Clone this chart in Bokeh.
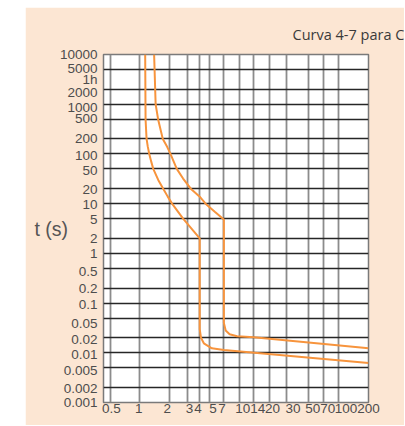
import math
from bokeh.plotting import figure
from bokeh.models import (Range1d, FixedTicker, Spacer, CustomJSTickFormatter,
                          AllLabels)
from bokeh.layouts import row, column
from bokeh.embed import file_html
from bokeh.resources import INLINE

# ---------------- data ----------------
title_text = "Curva 4-7 para C"
y_axis_title = "t (s)"

# current as multiple of In (x) and tripping time in seconds (y)
x_ticks = [0.5, 1, 2, 3, 4, 5, 7, 10, 14, 20, 30, 50, 70, 100, 200]
x_tick_labels = ["0.5", "1", "2", "3", "4", "5", "7", "10", "14", "20",
                 "30", "50", "70", "100", "200"]

y_grid_vals = [10000, 5000, 2000, 1000, 500, 200, 100, 50, 20, 10, 5, 2, 1,
               0.5, 0.2, 0.1, 0.05, 0.02, 0.01, 0.005, 0.002, 0.001]
y_label_vals = [10000, 5000, 3600, 2000, 1000, 500, 200, 100, 50, 20, 10, 5, 2,
                1, 0.5, 0.2, 0.1, 0.05, 0.02, 0.01, 0.005, 0.002, 0.001]
y_tick_labels = ["10000", "5000", "1h", "2000", "1000", "500", "200", "100",
                 "50", "20", "10", "5", "2", "1", "0.5", "0.2", "0.1", "0.05",
                 "0.02", "0.01", "0.005", "0.002", "0.001"]

# curve with magnetic trip at 4 x In
curve4_I = [1.13, 1.14, 1.167, 1.2, 1.242, 1.3, 1.363, 1.529, 1.716, 1.9,
            2.107, 2.72, 4.0, 4.0, 4.12, 4.4, 5.3, 7.0, 200]
curve4_t = [10000, 500, 200, 140, 100, 70, 50, 30, 20, 14,
            10, 5, 2, 0.03, 0.02, 0.0155, 0.0123, 0.0114, 0.0062]

# curve with magnetic trip at 7 x In
curve7_I = [1.39, 1.44, 1.53, 1.7, 1.88, 2.03, 2.35, 2.72, 3.25, 4.0,
            4.58, 5.67, 7.0, 7.0, 7.3, 8.0, 9.5, 14, 200]
curve7_t = [10000, 1000, 480, 200, 139, 100, 50, 32, 20, 13.8,
            10, 6.9, 4.8, 0.04, 0.028, 0.0235, 0.0215, 0.0205, 0.0123]

# ---------------- style ----------------
cream = "#FCE6D3"
orange = "#F7943D"
label_color = "#4D4D4D"
FRAME_W, FRAME_H = 265, 348
# small pixel nudges of tick labels (right / down), as in the printed chart
x_label_nudge = [1.3, -1.1, -2.6, 2.2, -1.7, 3.7, -1.9, 3.6, 3.9, 3.3, 6.3,
                 4.0, 4.6, 7.3, 0]
y_label_nudge = [0, -0.7, 3.2, 3, 3, -0.4, -0.8, 1.6, 1.6, 0.8, 0.9, 0.9, 0.4,
                 0.5, 3.2, 0, 1.4, 5.8, 1.9, 1.6, 2.7, 0.6, 0]

x_lo, x_hi = 0.43, 200
y_lo, y_hi = 0.001, 10000
px_dec_x = FRAME_W / math.log10(x_hi / x_lo)
px_dec_y = FRAME_H / math.log10(y_hi / y_lo)
x_label_pos = [v * 10 ** (d / px_dec_x) for v, d in zip(x_ticks, x_label_nudge)]
y_label_pos = [v * 10 ** (-d / px_dec_y) for v, d in zip(y_label_vals, y_label_nudge)]

p = figure(width=379, height=418, x_axis_type="log", y_axis_type="log",
           x_range=Range1d(x_lo, x_hi), y_range=Range1d(y_lo, y_hi),
           output_backend="svg", toolbar_location=None,
           min_border_left=78, min_border_right=379 - 78 - FRAME_W,
           min_border_top=47, min_border_bottom=418 - 47 - FRAME_H,
           background_fill_color="white", border_fill_color=cream)

p.title.text = title_text
p.title.align = "left"
p.title.offset = 189
p.title.standoff = 22
p.title.text_font = "Open Sans"
p.title.text_font_size = "14.5px"
p.title.text_font_style = "normal"
p.title.text_color = "#3A3A3A"

p.outline_line_color = "#7A7A7A"
p.outline_line_width = 1.5

lookup = ("let b = 0;"
          "for (let i = 0; i < pos.length; i++) {"
          "  if (Math.abs(Math.log(pos[i] / tick)) < Math.abs(Math.log(pos[b] / tick))) b = i;"
          "}"
          "return labels[b];")

for ax, pos, labels in ((p.xaxis[0], x_label_pos, x_tick_labels),
                        (p.yaxis[0], y_label_pos, y_tick_labels)):
    ax.ticker = FixedTicker(ticks=pos, minor_ticks=[])
    ax.formatter = CustomJSTickFormatter(args=dict(pos=pos, labels=labels), code=lookup)
    ax.major_label_policy = AllLabels()
    ax.axis_line_color = None
    ax.major_tick_line_color = None
    ax.minor_tick_line_color = None
    ax.major_tick_in = 0
    ax.major_tick_out = 0
    ax.minor_tick_in = 0
    ax.minor_tick_out = 0
    ax.major_label_text_font = "Liberation Sans"
    ax.major_label_text_font_size = "13.5px"
    ax.major_label_text_color = label_color

p.xaxis[0].major_label_standoff = 1
p.yaxis[0].major_label_standoff = 6
p.yaxis[0].axis_label = y_axis_title
p.yaxis[0].axis_label_orientation = "horizontal"
p.yaxis[0].axis_label_standoff = -11
p.yaxis[0].axis_label_text_font = "Liberation Sans"
p.yaxis[0].axis_label_text_font_size = "19.5px"
p.yaxis[0].axis_label_text_font_style = "normal"
p.yaxis[0].axis_label_text_color = "#555555"

p.xgrid.ticker = FixedTicker(ticks=x_ticks, minor_ticks=[])
p.xgrid.grid_line_color = "#8C8C8C"
p.xgrid.grid_line_width = 1.8
p.xgrid.minor_grid_line_color = None
p.ygrid.ticker = FixedTicker(ticks=y_grid_vals, minor_ticks=[])
p.ygrid.grid_line_color = "#262626"
p.ygrid.grid_line_width = 1.3
p.ygrid.minor_grid_line_color = None

p.line(curve4_I, curve4_t, line_color=orange, line_width=2)
p.line(curve7_I, curve7_t, line_color=orange, line_width=2)

layout = column(Spacer(width=10, height=7),
                row(Spacer(width=25, height=418), p))
open("out.html", "w").write(file_html(layout, INLINE))
